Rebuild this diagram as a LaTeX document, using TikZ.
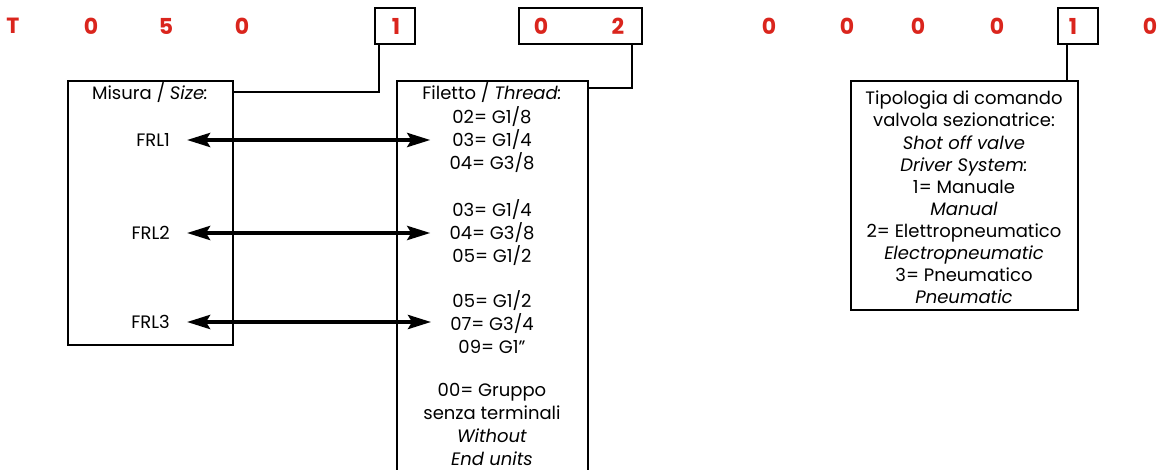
\documentclass[tikz,border=0pt]{standalone}
\usepackage{fontspec}
\setmainfont{Poppins}
\usetikzlibrary{arrows.meta,positioning}
\definecolor{codered}{RGB}{218,37,29}

\begin{document}
\begin{tikzpicture}[x=1pt,y=-1pt]
\tikzstyle{every node}+=[font=\fontsize{18}{23}\selectfont]
\tikzstyle{txt}=[inner sep=0pt, align=center]
\tikzstyle{digit}=[font=\fontsize{22}{22}\selectfont\bfseries, text=codered]
\tikzstyle{frame}=[draw=black, line width=1.8pt, inner sep=0pt]
\tikzstyle{link}=[draw=black, line width=1.8pt]
\tikzstyle{both}=[line width=4pt, {Stealth[length=23pt,width=14pt,inset=4pt]}-{Stealth[length=23pt,width=14pt,inset=4pt]}]
\useasboundingbox (0,0) rectangle (1158,470);
% code
\node[digit] (cT) at (13,26) {T};
\node[digit] (c0a) at (91,26) {0};
\node[digit] (c5) at (166,26) {5};
\node[digit] (c0b) at (242,26) {0};
\node[digit] (c1a) at (396,26) {1};
\node[digit] (c0c) at (541,26) {0};
\node[digit] (c2) at (618,26) {2};
\node[digit] (c0d) at (769,26) {0};
\node[digit] (c0e) at (847,26) {0};
\node[digit] (c0f) at (918,26) {0};
\node[digit] (c0g) at (997,26) {0};
\node[digit] (c1b) at (1073,26) {1};
\node[digit] (c0h) at (1150,26) {0};
\node[frame, minimum width=40pt, minimum height=36pt] (sel1) at (395,26) {};
\node[frame, minimum width=123pt, minimum height=36pt] (sel2) at (580.5,26) {};
\node[frame, minimum width=40pt, minimum height=36pt] (sel3) at (1078,26) {};
% boxes
\node[frame, minimum width=165pt, minimum height=264pt] (size) at (150.5,213) {};
\node[frame, minimum width=191pt, minimum height=410pt] (thread) at (492.5,286) {};
\node[frame, minimum width=227pt, minimum height=229pt] (cmd) at (964.5,195.5) {};
\draw[link] ([yshift=-12pt]size.north east) -| ([xshift=5pt]sel1.south west);
\draw[link] ([yshift=-8pt]thread.north east) -| ([xshift=-11pt]sel2.south east);
\draw[link] ([xshift=10pt]sel3.south west) -- ([xshift=10pt]sel3.south west |- cmd.north);
% size
\node[txt] (sizet) at (150,93) {Misura / \textit{Size:}};
\node[txt, anchor=east] (frl1) at (170,140) {FRL1};
\node[txt, anchor=east] (frl2) at (170,233) {FRL2};
\node[txt, anchor=east] (frl3) at (170,322) {FRL3};
% thread
\node[txt] (thrt) at (492,93) {Filetto / \textit{Thread:}};
\node[txt] (thr1) at (492,140) {02= G1/8\\03= G1/4\\04= G3/8};
\node[txt] (thr2) at (492,233) {03= G1/4\\04= G3/8\\05= G1/2};
\node[txt] (thr3) at (492,322) {05= G1/2\\07= G3/4\\09= G1''};
\node[txt] (thr4) at (492,424) {00= Gruppo\\senza terminali\\\textit{Without}\\\textit{End units}};
\draw[both, shorten <=17pt, shorten >=19pt] (frl1.east) -- (thr1.west);
\draw[both, shorten <=17pt, shorten >=19pt] (frl2.east) -- (thr2.west);
\draw[both, shorten <=17pt, shorten >=19pt] (frl3.east) -- (thr3.west);
% command
\node[txt, font=\fontsize{18}{22.1}\selectfont] (cmdt) at (964,197.5) {Tipologia di comando\\valvola sezionatrice:\\\textit{Shot off valve}\\\textit{Driver System:}\\1= Manuale\\\textit{Manual}\\2= Elettropneumatico\\\textit{Electropneumatic}\\3= Pneumatico\\\textit{Pneumatic}};
\end{tikzpicture}
\end{document}
